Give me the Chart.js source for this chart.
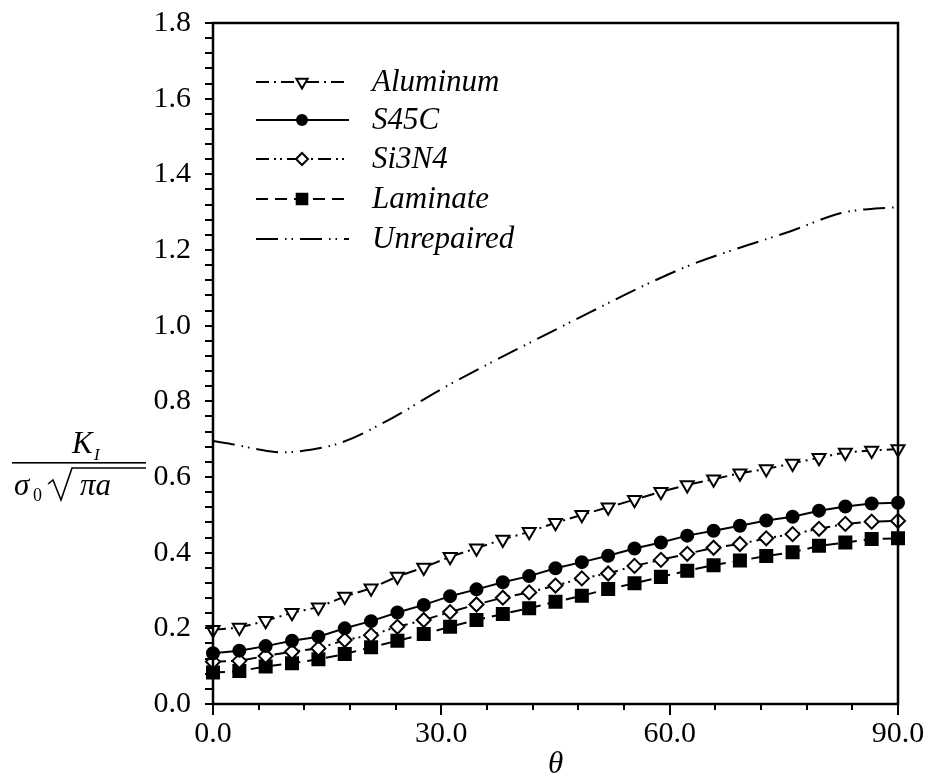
<!DOCTYPE html>
<html>
<head>
<meta charset="utf-8">
<script src="https://cdn.jsdelivr.net/npm/chart.js@4.4.0/dist/chart.umd.min.js"></script>
<style>
  html, body { margin: 0; padding: 0; background: #fff; }
</style>
</head>
<body>
<canvas id="chart" width="929" height="778"></canvas>
<script>
// crack angle theta (deg) for the marked series
const theta = [0, 3.46, 6.92, 10.38, 13.85, 17.31, 20.77, 24.23, 27.69, 31.15, 34.62, 38.08, 41.54, 45,
  48.46, 51.92, 55.38, 58.85, 62.31, 65.77, 69.23, 72.69, 76.15, 79.62, 83.08, 86.54, 90];

const aluminum = [0.196, 0.202, 0.220, 0.241, 0.256, 0.284, 0.306, 0.337, 0.361, 0.389, 0.412, 0.435, 0.455, 0.479,
  0.500, 0.520, 0.540, 0.561, 0.579, 0.594, 0.610, 0.621, 0.636, 0.651, 0.665, 0.670, 0.674];
const s45c = [0.134, 0.141, 0.153, 0.167, 0.178, 0.200, 0.219, 0.242, 0.262, 0.285, 0.303, 0.322, 0.338, 0.359,
  0.375, 0.392, 0.411, 0.427, 0.445, 0.458, 0.471, 0.485, 0.495, 0.511, 0.522, 0.530, 0.532];
const si3n4 = [0.112, 0.114, 0.127, 0.138, 0.147, 0.169, 0.182, 0.204, 0.222, 0.243, 0.263, 0.281, 0.295, 0.313,
  0.332, 0.345, 0.365, 0.381, 0.397, 0.413, 0.423, 0.438, 0.449, 0.463, 0.476, 0.482, 0.484];
const laminate = [0.083, 0.087, 0.099, 0.108, 0.118, 0.132, 0.150, 0.167, 0.185, 0.204, 0.222, 0.238, 0.253, 0.270,
  0.286, 0.304, 0.319, 0.336, 0.352, 0.367, 0.379, 0.391, 0.401, 0.418, 0.427, 0.436, 0.438];

// unrepaired curve (no markers)
const unrepTheta = [0, 3, 5.7, 9, 11.4, 16.7, 23.3, 29.8, 36.4, 43, 49.5, 56.1, 62.7, 69.2, 75.8, 82.4, 86, 90];
const unrepaired = [0.695, 0.685, 0.674, 0.665, 0.668, 0.690, 0.753, 0.830, 0.901, 0.969, 1.035, 1.101, 1.160,
  1.206, 1.249, 1.297, 1.308, 1.313];

const seriesNames = ['Aluminum', 'S45C', 'Si3N4', 'Laminate', 'Unrepaired'];
const yTicks = { min: 0, max: 1.8, step: 0.04, labelEvery: 0.2 };
const xTicks = { min: 0, max: 90, step: 6, labelEvery: 30 };

const FONT = "'Times New Roman', 'Liberation Serif', serif";
Chart.defaults.color = '#000';
Chart.defaults.font.family = FONT;

const pts = (xs, ys) => xs.map((x, i) => ({ x: x, y: ys[i] }));

function series(label, data, style, dash, fill, radius) {
  return {
    label: label,
    data: data,
    borderColor: '#000',
    borderWidth: 2,
    borderDash: dash,
    pointStyle: style,
    pointRadius: radius,
    pointRotation: style === 'triangle' ? 180 : 0,
    pointBackgroundColor: fill,
    pointBorderColor: '#000',
    pointBorderWidth: 2,
    tension: 0,
    clip: false
  };
}

const datasets = [
  series(seriesNames[0], pts(theta, aluminum), 'triangle', [13, 5, 2, 5], '#fff', 7.5),
  series(seriesNames[1], pts(theta, s45c), 'circle', [], '#000', 6),
  series(seriesNames[2], pts(theta, si3n4), 'rectRot', [13, 5, 2, 4, 2, 5], '#fff', 7),
  series(seriesNames[3], pts(theta, laminate), 'rect', [12, 7], '#000', 8.5),
  {
    label: seriesNames[4],
    data: pts(unrepTheta, unrepaired),
    borderColor: '#000',
    borderWidth: 2,
    borderDash: [22, 7, 1.5, 5, 1.5, 7],
    pointRadius: 0,
    cubicInterpolationMode: 'monotone',
    clip: false
  }
];

const isMultiple = (v, m) => Math.abs(v / m - Math.round(v / m)) < 1e-6;

// frame, tick marks, legend and y-axis fraction label
const decor = {
  id: 'decor',
  afterDraw(chart) {
    const ctx = chart.ctx;
    const a = chart.chartArea;
    const xs = chart.scales.x, ys = chart.scales.y;
    ctx.save();
    ctx.strokeStyle = '#000';
    ctx.lineWidth = 2.5;
    ctx.strokeRect(a.left, a.top, a.right - a.left, a.bottom - a.top);

    ctx.lineWidth = 2;
    ctx.beginPath();
    xs.ticks.forEach(t => {
      const px = Math.round(xs.getPixelForValue(t.value));
      ctx.moveTo(px, a.bottom);
      ctx.lineTo(px, a.bottom + (isMultiple(t.value, xTicks.labelEvery) ? 11 : 6));
    });
    ys.ticks.forEach(t => {
      const py = Math.round(ys.getPixelForValue(t.value));
      ctx.moveTo(a.left - 8, py);
      ctx.lineTo(a.left, py);
    });
    ctx.stroke();

    // legend
    const rows = [82, 120, 159, 199, 239];
    ctx.font = 'italic 31px ' + FONT;
    ctx.textBaseline = 'middle';
    chart.data.datasets.forEach((ds, i) => {
      const y = rows[i];
      ctx.setLineDash(ds.borderDash || []);
      ctx.lineWidth = 2;
      ctx.beginPath();
      ctx.moveTo(256, y);
      ctx.lineTo(349, y);
      ctx.stroke();
      ctx.setLineDash([]);
      if (ds.pointRadius > 0) {
        ctx.fillStyle = ds.pointBackgroundColor;
        ctx.strokeStyle = '#000';
        ctx.lineWidth = 2;
        Chart.helpers.drawPoint(ctx, {
          pointStyle: ds.pointStyle, radius: ds.pointRadius - 1,
          rotation: ds.pointRotation, borderWidth: 2
        }, 302, y);
      }
      ctx.fillStyle = '#000';
      ctx.fillText(ds.label, 372, y + 1);
    });

    // y-axis label: K_I / (sigma_0 sqrt(pi a))
    ctx.fillStyle = '#000';
    ctx.textBaseline = 'alphabetic';
    ctx.font = 'italic 31px ' + FONT;
    ctx.fillText('K', 72, 453);
    ctx.font = 'italic 17px ' + FONT;
    ctx.fillText('I', 94, 460);
    ctx.fillRect(12, 462, 134, 1.6);
    ctx.font = 'italic 31px ' + FONT;
    ctx.fillText('σ', 14, 495);
    ctx.font = '18px ' + FONT;
    ctx.fillText('0', 33, 501);
    ctx.lineWidth = 1.6;
    ctx.beginPath();
    ctx.moveTo(48, 484);
    ctx.lineTo(53, 480);
    ctx.lineTo(61, 500);
    ctx.lineTo(72, 468);
    ctx.lineTo(146, 468);
    ctx.stroke();
    ctx.font = 'italic 31px ' + FONT;
    ctx.fillText('πa', 80, 495);
    ctx.restore();
  }
};

new Chart(document.getElementById('chart'), {
  type: 'line',
  data: { datasets: datasets },
  plugins: [decor],
  options: {
    responsive: false,
    animation: false,
    devicePixelRatio: 1,
    layout: { padding: { left: 0, top: 23, right: 31, bottom: 0 } },
    plugins: { legend: { display: false }, tooltip: { enabled: false } },
    scales: {
      x: {
        type: 'linear',
        min: xTicks.min,
        max: xTicks.max,
        grid: { display: false, drawTicks: false },
        border: { display: false },
        afterFit: s => { s.height = 74; s.paddingLeft = 0; s.paddingRight = 0; },
        ticks: {
          stepSize: xTicks.step,
          autoSkip: false,
          maxRotation: 0,
          padding: 12,
          font: { size: 30, lineHeight: 1.2 },
          callback: v => isMultiple(v, xTicks.labelEvery) ? v.toFixed(1) : ''
        },
        title: {
          display: true,
          text: 'θ',
          font: { size: 31, style: 'italic', lineHeight: '26px' },
          padding: { top: 0, bottom: 0 }
        }
      },
      y: {
        type: 'linear',
        min: yTicks.min,
        max: yTicks.max,
        grid: { display: false, drawTicks: false },
        border: { display: false },
        afterFit: s => { s.width = 213; s.paddingTop = 0; s.paddingBottom = 0; },
        ticks: {
          stepSize: yTicks.step,
          autoSkip: false,
          padding: 22,
          font: { size: 30 },
          callback: v => isMultiple(v, yTicks.labelEvery) ? v.toFixed(1) : ''
        }
      }
    }
  }
});
</script>
</body>
</html>
